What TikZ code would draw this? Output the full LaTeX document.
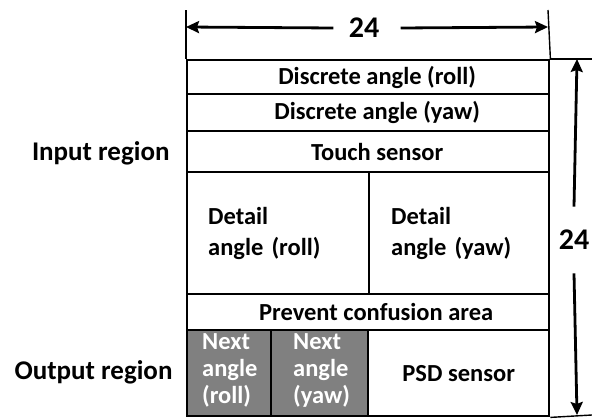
\documentclass[tikz,border=0pt]{standalone}
\usepackage{fontspec}
\setmainfont{Carlito}
\usetikzlibrary{arrows.meta}
\begin{document}
\begin{tikzpicture}[x=1pt,y=-1pt,
  txt/.style={font=\bfseries\fontsize{24.5}{27}\selectfont},
  bigtxt/.style={font=\bfseries\fontsize{27}{30}\selectfont},
  dimtxt/.style={font=\bfseries\fontsize{30}{32}\selectfont},
  cell/.style={draw, line width=2.4pt, anchor=north west, inner sep=0pt, txt, align=center},
  graycell/.style={cell, fill=black!50},
  graytxt/.style={txt, text=white, align=left, anchor=west, inner sep=0pt},
  dim/.style={line width=2.8pt, -{Stealth[length=13pt,width=12pt,inset=2pt]}},
  ext/.style={line width=1.4pt}]
\useasboundingbox (0,0) rectangle (592,420);
% Input region rows
\node[cell, minimum width=362pt, minimum height=34pt] (roll) at (186,59) {\hspace*{18pt}Discrete angle (roll)};
\node[cell, minimum width=362pt, minimum height=37pt] (yaw) at (186,93) {\hspace*{18pt}Discrete angle (yaw)};
\node[cell, minimum width=362pt, minimum height=41pt] (touch) at (186,130) {\hspace*{18pt}Touch sensor};
\node[cell, minimum height=122pt, text width=140pt, inner xsep=21pt, align=left,
      font=\bfseries\fontsize{24.5}{31}\selectfont] (droll) at (186,171) {Detail\\angle (roll)};
\node[cell, minimum height=122pt, text width=136pt, inner xsep=22pt, align=left,
      font=\bfseries\fontsize{24.5}{31}\selectfont] (dyaw) at (368,171) {Detail\\angle (yaw)};
\node[cell, minimum width=362pt, minimum height=36pt] (prevent) at (186,293) {\hspace*{16pt}Prevent confusion area};
% Output region row
\node[graycell, minimum width=84pt, minimum height=86pt] (nroll) at (186,329) {};
\node[graycell, minimum width=97pt, minimum height=86pt] (nyaw) at (270,329) {};
\node[cell, minimum width=181pt, minimum height=86pt] (psd) at (367,329) {PSD sensor};
\node[graytxt] (nrolltxt) at (202,370) {Next\\angle\\(roll)};
\node[graytxt] (nyawtxt) at (293,370) {Next\\angle\\(yaw)};
% Region labels
\node[bigtxt, anchor=east] (inlab) at (173,153) {Input region};
\node[bigtxt, anchor=east] (outlab) at (176,372) {Output region};
% Horizontal dimension
\coordinate (hl) at (186,27);
\coordinate (hr) at (548,27);
\coordinate (el) at (186,10);
\coordinate (er) at (548,10);
\draw[ext] (roll.north west) -- (el);
\draw[ext] (roll.north east) -- (er);
\node[dimtxt] (wdim) at (364,28) {24};
\draw[dim] (wdim.west) ++(-12,0) -- (hl);
\draw[dim] (wdim.east) ++(18,0) -- (hr);
% Vertical dimension
\coordinate (vt) at (577,59);
\coordinate (vb) at (577,415);
\coordinate (et) at (592,59);
\coordinate (eb) at (592,415);
\draw[ext] (roll.north east) -- (et);
\draw[ext] (psd.south east) -- (eb);
\node[dimtxt] (hdim) at (574,240) {24};
\draw[dim] (hdim.north) ++(0,-20) -- (vt);
\draw[dim] (hdim.south) ++(0,20) -- (vb);
\end{tikzpicture}
\end{document}
